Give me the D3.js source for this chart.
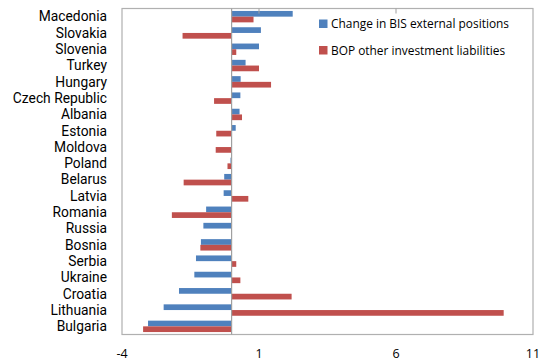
<!DOCTYPE html>
<html>
<head>
<meta charset="utf-8">
<script src="https://cdn.jsdelivr.net/npm/d3@7"></script>
<style>
  html, body { margin: 0; padding: 0; background: #fff; }
  svg { display: block; font-family: "Open Sans", "Noto Sans", sans-serif; }
  .country { font-family: Roboto, "Open Sans", sans-serif; }
</style>
</head>
<body>
<svg id="chart" width="539" height="364"></svg>
<script>
// Countries, top to bottom
const countries = ["Macedonia", "Slovakia", "Slovenia", "Turkey", "Hungary", "Czech Republic",
  "Albania", "Estonia", "Moldova", "Poland", "Belarus", "Latvia", "Romania", "Russia",
  "Bosnia", "Serbia", "Ukraine", "Croatia", "Lithuania", "Bulgaria"];

// Change in BIS external positions
const bisChange = [2.23, 1.07, 1.0, 0.51, 0.33, 0.32, 0.29, 0.15, 0, -0.04, -0.27, -0.29,
  -0.93, -1.03, -1.12, -1.30, -1.36, -1.92, -2.48, -3.05];

// BOP other investment liabilities
const bopLiab = [0.80, -1.79, 0.17, 1.0, 1.44, -0.64, 0.38, -0.56, -0.58, -0.15, -1.75, 0.61,
  -2.18, 0, -1.14, 0.17, 0.32, 2.19, 9.93, -3.23];

const seriesNames = ["Change in BIS external positions", "BOP other investment liabilities"];
const seriesColors = ["#4F81BD", "#C0504D"];
const xTicks = [-4, 1, 6, 11];

const svg = d3.select("#chart");
const plot = { left: 122, right: 533, top: 8.5, bottom: 334.5 };

const x = d3.scaleLinear().domain([-4, 11]).range([plot.left, plot.right]);
const y = d3.scaleBand().domain(countries).range([plot.top, plot.bottom]).paddingInner(0.3).paddingOuter(0.15);
const ySeries = d3.scaleBand().domain([0, 1]).range([0, y.bandwidth()]);

const rows = countries.map((c, i) => ({ country: c, values: [bisChange[i], bopLiab[i]] }));

// Bars
const groups = svg.append("g").selectAll("g").data(rows).join("g")
  .attr("transform", d => `translate(0,${y(d.country)})`);
groups.selectAll("rect").data(d => d.values.map((v, s) => ({ v, s }))).join("rect")
  .attr("x", d => x(Math.min(0, d.v)))
  .attr("width", d => Math.abs(x(d.v) - x(0)))
  .attr("y", d => ySeries(d.s))
  .attr("height", ySeries.bandwidth())
  .attr("fill", d => seriesColors[d.s]);

// Plot frame
svg.append("rect")
  .attr("x", plot.left).attr("y", plot.top)
  .attr("width", plot.right - plot.left).attr("height", plot.bottom - plot.top)
  .attr("fill", "none").attr("stroke", "#b0b0b0").attr("stroke-width", 1.2);

// Category axis at zero
svg.append("line")
  .attr("x1", x(0)).attr("x2", x(0))
  .attr("y1", plot.top).attr("y2", plot.bottom)
  .attr("stroke", "#a0a0a0").attr("stroke-width", 1.2);

// Value ticks hang from the top edge
svg.append("g").selectAll("line").data(xTicks.slice(1, -1)).join("line")
  .attr("x1", d => x(d)).attr("x2", d => x(d))
  .attr("y1", plot.top).attr("y2", plot.top + 5)
  .attr("stroke", "#a0a0a0").attr("stroke-width", 1);

// Value labels below the frame
svg.append("g").selectAll("text").data(xTicks).join("text")
  .attr("x", d => x(d)).attr("y", 354)
  .attr("dy", "0.35em")
  .attr("text-anchor", "middle")
  .attr("font-size", 12.5)
  .attr("fill", "#000")
  .text(d => d);

// Country labels
svg.append("g").selectAll("text").data(countries).join("text")
  .attr("class", "country")
  .attr("x", 107)
  .attr("y", d => y(d) + y.bandwidth() / 2)
  .attr("dy", "0.35em")
  .attr("text-anchor", "end")
  .attr("font-size", 13.8)
  .attr("fill", "#000")
  .text(d => d);

// Legend
const legend = svg.append("g").selectAll("g").data(seriesNames).join("g")
  .attr("transform", (d, i) => `translate(319,${19.5 + i * 26.5})`);
legend.append("rect").attr("width", 8.5).attr("height", 8.5).attr("fill", (d, i) => seriesColors[i]);
legend.append("text")
  .attr("x", 12).attr("y", 4.5).attr("dy", "0.35em")
  .attr("font-size", 11.9).attr("fill", "#000")
  .text(d => d);
</script>
</body>
</html>
